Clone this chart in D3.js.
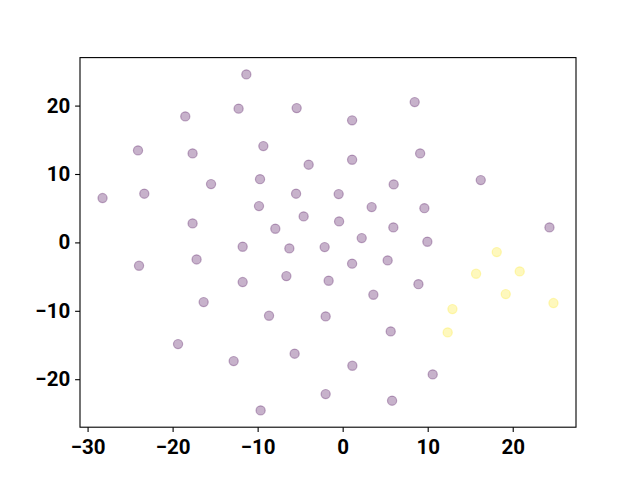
<!DOCTYPE html>
<html>
<head>
<meta charset="utf-8">
<script src="https://cdn.jsdelivr.net/npm/d3@7"></script>
<style>
  html, body { margin: 0; padding: 0; background: #fff; }
  svg text { font-family: Roboto, "DejaVu Sans", sans-serif; font-weight: bold; }
</style>
</head>
<body>
<svg id="chart" width="640" height="480"></svg>
<script>
// Data
const purpleX = [-11.33, -12.24, -5.41, -18.51, -24.07, -17.65, -9.33, -4.0, -28.24, -23.33,
  -15.48, -9.72, -5.48, -9.84, -4.59, -17.65, -7.92, -11.76, -6.27, -2.12,
  8.47, 1.11, 1.11, 9.11, 16.24, 6.0, -0.47, 3.41, 9.61, -0.42,
  5.96, 24.32, 2.24, 9.96, -23.95, -17.18, -11.76, -6.62, -1.65, -16.35,
  -8.66, -2.0, -19.36, -12.82, -5.65, -2.0, -9.65, 1.11, 5.29, 8.91,
  3.61, 5.65, 1.14, 10.59, 5.81];
const purpleY = [24.56, 19.55, 19.63, 18.42, 13.45, 13.01, 14.08, 11.36, 6.48, 7.12,
  8.52, 9.25, 7.12, 5.31, 3.80, 2.78, 2.0, -0.63, -0.88, -0.69,
  20.51, 17.84, 12.09, 13.01, 9.11, 8.48, 7.06, 5.16, 5.01, 3.07,
  2.19, 2.19, 0.63, 0.10, -3.41, -2.49, -5.80, -4.93, -5.60, -8.73,
  -10.72, -10.82, -14.87, -17.35, -16.27, -22.18, -24.56, -3.11, -2.63, -6.10,
  -7.65, -13.01, -18.03, -19.30, -23.14];
const yellowX = [18.12, 15.69, 20.82, 19.18, 24.79, 12.91, 12.35];
const yellowY = [-1.42, -4.58, -4.24, -7.56, -8.87, -9.75, -13.16];
const xTicks = [-30, -20, -10, 0, 10, 20];
const yTicks = [-20, -10, 0, 10, 20];

const points = [];
purpleX.forEach((v, i) => points.push({x: v, y: purpleY[i], c: "#440154"}));
yellowX.forEach((v, i) => points.push({x: v, y: yellowY[i], c: "#fde725"}));

const plotL = 80, plotR = 576, plotT = 57.6, plotB = 427.2;

function padded(vals) {
  const [a, b] = d3.extent(vals);
  const p = (b - a) * 0.05;
  return [a - p, b + p];
}
const allX = points.map(d => d.x), allY = points.map(d => d.y);
const xs = d3.scaleLinear().domain(padded(allX)).range([plotL, plotR]);
const ys = d3.scaleLinear().domain(padded(allY)).range([plotB, plotT]);

const svg = d3.select("#chart");

svg.append("g").selectAll("circle").data(points).enter().append("circle")
  .attr("cx", d => xs(d.x))
  .attr("cy", d => ys(d.y))
  .attr("r", 4.6)
  .attr("fill", d => d.c)
  .attr("fill-opacity", 0.3)
  .attr("stroke", d => d.c)
  .attr("stroke-opacity", 0.3)
  .attr("stroke-width", 1.2);

svg.append("rect")
  .attr("x", plotL).attr("y", plotT)
  .attr("width", plotR - plotL).attr("height", plotB - plotT)
  .attr("fill", "none").attr("stroke", "#000").attr("stroke-width", 1.1);

const fmt = d => d < 0 ? "\u2212" + Math.abs(d) : String(d);
const xAxis = d3.axisBottom(xs).tickValues(xTicks).tickSize(4.9).tickPadding(4.9).tickFormat(fmt);
const yAxis = d3.axisLeft(ys).tickValues(yTicks).tickSize(4.9).tickPadding(4.9).tickFormat(fmt);

const gx = svg.append("g").attr("transform", `translate(0,${plotB})`).call(xAxis);
const gy = svg.append("g").attr("transform", `translate(${plotL},0)`).call(yAxis);
[gx, gy].forEach(ax => {
  ax.select(".domain").remove();
  ax.selectAll(".tick line").attr("stroke", "#000").attr("stroke-width", 1.1);
  ax.selectAll(".tick text").attr("fill", "#000").style("font-size", "20.5px");
});
gx.selectAll(".tick text").attr("y", 26.8).attr("dy", null);
</script>
</body>
</html>
